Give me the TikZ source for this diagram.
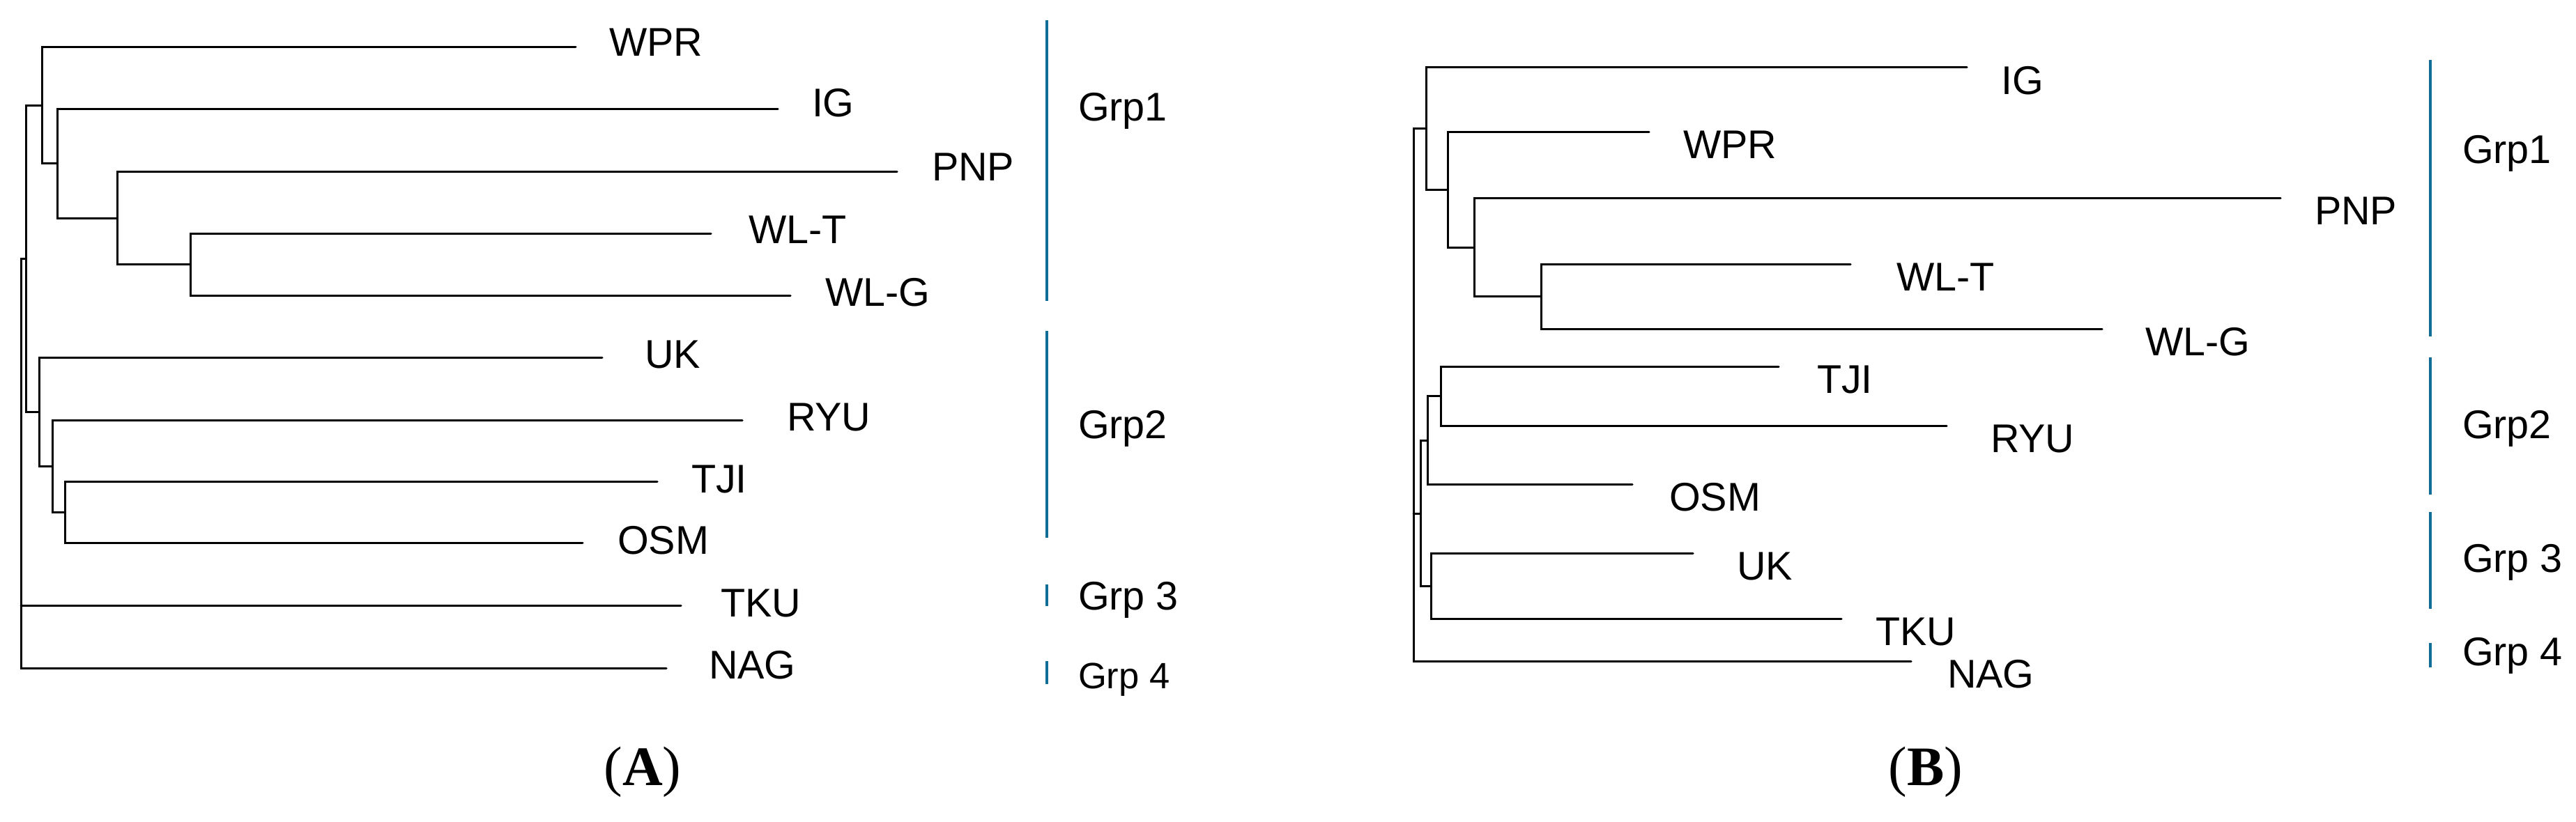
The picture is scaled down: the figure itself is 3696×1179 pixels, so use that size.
\documentclass[tikz,border=0pt]{standalone}
\usepackage{fontspec}
\setmainfont{Liberation Serif}
\newfontfamily\leaffont{Liberation Sans}
\usetikzlibrary{calc}
\definecolor{grpblue}{RGB}{16,110,150}
\tikzset{
  branch/.style={line width=0.6pt, line cap=round},
  leaf/.style={anchor=west, inner sep=0pt, font=\leaffont\fontsize{11.5}{12}\selectfont},
  grpbar/.style={draw=grpblue, line width=0.8pt},
  grplab/.style={anchor=west, inner sep=0pt, font=\leaffont\fontsize{11.5}{12}\selectfont},
}

\begin{document}
\begin{tikzpicture}[x=0.2pt, y=-0.2pt]
			\useasboundingbox (0,0) rectangle (3696,1179);
			% tree A
			\coordinate (a4) at (273,379.5);
			\coordinate (a3) at (168,313);
			\coordinate (a2) at (82,234);
			\coordinate (a1) at (60,151.5);
			\coordinate (b3) at (93,735);
			\coordinate (b2) at (75,669);
			\coordinate (b1) at (56,591);
			\coordinate (cA) at (37,371);
			\coordinate (rootA) at (30,371);
			\coordinate (wprA) at (826,67);
			\coordinate (igA) at (1116,156);
			\coordinate (pnpA) at (1287,246);
			\coordinate (wltA) at (1020,335);
			\coordinate (wlgA) at (1134,424);
			\coordinate (ukA) at (864,513);
			\coordinate (ryuA) at (1065,603);
			\coordinate (tjiA) at (943,691);
			\coordinate (osmA) at (836,779);
			\coordinate (tkuA) at (977,869);
			\coordinate (nagA) at (956,959);
			\draw[branch] (wltA) -| (a4) |- (wlgA);
			\draw[branch] (pnpA) -| (a3) |- (a4);
			\draw[branch] (igA) -| (a2) |- (a3);
			\draw[branch] (wprA) -| (a1) |- (a2);
			\draw[branch] (tjiA) -| (b3) |- (osmA);
			\draw[branch] (ryuA) -| (b2) |- (b3);
			\draw[branch] (ukA) -| (b1) |- (b2);
			\draw[branch] (a1) -| (cA) |- (b1);
			\draw[branch] (cA) -- (rootA) |- (nagA);
			\draw[branch] (rootA |- tkuA) -- (tkuA);
			\node[leaf] (lwprA) at (873,61) {WPR};
			\node[leaf] (ligA) at (1164,148) {IG};
			\node[leaf] (lpnpA) at (1336,240) {PNP};
			\node[leaf] (lwltA) at (1073,330) {WL-T};
			\node[leaf] (lwlgA) at (1183,420) {WL-G};
			\node[leaf] (lukA) at (924,509) {UK};
			\node[leaf] (lryuA) at (1128,599) {RYU};
			\node[leaf] (ltjiA) at (991,688) {TJI};
			\node[leaf] (losmA) at (885,776) {OSM};
			\node[leaf] (ltkuA) at (1033,866) {TKU};
			\node[leaf] (lnagA) at (1016,955) {NAG};
			% groups A
			\draw[grpbar] (1502,29) -- (1502,432);
			\draw[grpbar] (1502,475) -- (1502,772);
			\draw[grpbar] (1502,839) -- (1502,870);
			\draw[grpbar] (1502,949) -- (1502,982);
			\node[grplab] (g1A) at (1546,159) {Grp1};
			\node[grplab] (g2A) at (1546,615) {Grp2};
			\node[grplab] (g3A) at (1546,861) {Grp 3};
			\node[grplab, font=\leaffont\fontsize{10.5}{11}\selectfont] (g4A) at (1546,976) {Grp 4};
			% tree B
			\coordinate (d4) at (2211,425.5);
			\coordinate (d3) at (2115,355);
			\coordinate (d2) at (2077,272);
			\coordinate (d1) at (2046,184);
			\coordinate (e1) at (2067,568);
			\coordinate (e2) at (2048,632);
			\coordinate (f1) at (2053,841);
			\coordinate (gB) at (2038,737);
			\coordinate (rootB) at (2028,184);
			\coordinate (igB) at (2822,96);
			\coordinate (wprB) at (2366,189);
			\coordinate (pnpB) at (3272,284);
			\coordinate (wltB) at (2655,379);
			\coordinate (wlgB) at (3016,472);
			\coordinate (tjiB) at (2552,526);
			\coordinate (ryuB) at (2793,611);
			\coordinate (osmB) at (2342,695);
			\coordinate (ukB) at (2429,794);
			\coordinate (tkuB) at (2642,888);
			\coordinate (nagB) at (2742,949);
			\draw[branch] (wltB) -| (d4) |- (wlgB);
			\draw[branch] (pnpB) -| (d3) |- (d4);
			\draw[branch] (wprB) -| (d2) |- (d3);
			\draw[branch] (igB) -| (d1) |- (d2);
			\draw[branch] (tjiB) -| (e1) |- (ryuB);
			\draw[branch] (e1) -| (e2) |- (osmB);
			\draw[branch] (ukB) -| (f1) |- (tkuB);
			\draw[branch] (e2) -| (gB) |- (f1);
			\draw[branch] (d1) -- (rootB) |- (nagB);
			\draw[branch] (rootB |- gB) -- (gB);
			\node[leaf] (ligB) at (2870,116) {IG};
			\node[leaf] (lwprB) at (2414,208) {WPR};
			\node[leaf] (lpnpB) at (3320,303) {PNP};
			\node[leaf] (lwltB) at (2720,398) {WL-T};
			\node[leaf] (lwlgB) at (3077,491) {WL-G};
			\node[leaf] (ltjiB) at (2606,545) {TJI};
			\node[leaf] (lryuB) at (2855,630) {RYU};
			\node[leaf] (losmB) at (2394,714) {OSM};
			\node[leaf] (lukB) at (2491,813) {UK};
			\node[leaf] (ltkuB) at (2690,907) {TKU};
			\node[leaf] (lnagB) at (2793,968) {NAG};
			% groups B
			\draw[grpbar] (3487,86) -- (3487,483);
			\draw[grpbar] (3487,513) -- (3487,710);
			\draw[grpbar] (3487,735) -- (3487,874);
			\draw[grpbar] (3487,923) -- (3487,958);
			\node[grplab] (g1B) at (3532,220) {Grp1};
			\node[grplab] (g2B) at (3532,615) {Grp2};
			\node[grplab] (g3B) at (3532,807) {Grp 3};
			\node[grplab] (g4B) at (3532,941) {Grp 4};
			% captions
			\node[font=\fontsize{16}{18}\selectfont] (capA) at (922,1108) {(\textbf{A})};
			\node[font=\fontsize{16}{18}\selectfont] (capB) at (2763,1108) {(\textbf{B})};
		\end{tikzpicture}
\end{document}
